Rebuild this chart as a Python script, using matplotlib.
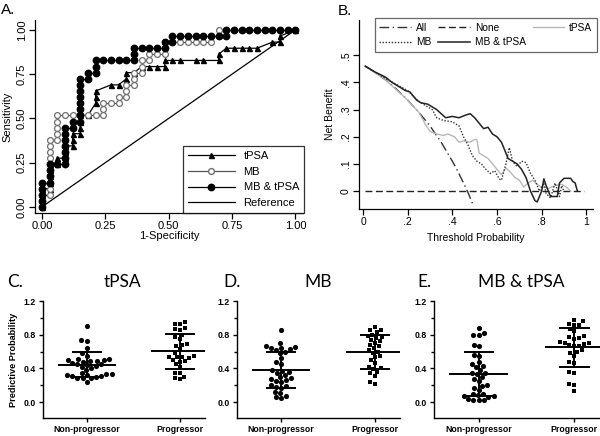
import numpy as np
import pandas as pd
import matplotlib
matplotlib.use("Agg")
import matplotlib.pyplot as plt
import seaborn as sns
from matplotlib.lines import Line2D

# ---- A. ROC curves, read as counts (false positives /33, true positives /29)
n_neg, n_pos = 33, 29

tpsa_fp = [0,0,0,0,1,1,1,1,1,2,2,3,3,3,4,4,4,5,5,5,5,6,7,7,7,9,10,11,11,12,13,14,15,16,16,17,18,20,21,23,23,24,25,26,27,28,30,31,31,33]
tpsa_tp = [0,1,2,3,3,4,5,6,7,7,8,8,9,10,10,11,12,12,13,14,15,15,17,18,19,20,20,21,22,22,23,23,23,23,24,24,24,24,24,24,25,26,26,26,26,26,27,27,28,29]

mb_fp = [0,0,0,1,1,1,1,1,1,1,1,1,1,2,2,2,2,2,3,4,5,6,7,8,8,8,9,10,10,11,11,11,12,12,12,13,13,13,14,14,15,16,16,16,17,18,19,20,21,22,22,23,23,24,25,26,27,28,29,30,31,32,33]
mb_tp = [0,1,2,2,3,4,5,6,7,8,9,10,11,11,12,13,14,15,15,15,15,15,15,15,16,17,17,17,18,18,19,20,20,21,22,22,23,24,24,25,25,25,26,27,27,27,27,27,27,27,28,28,29,29,29,29,29,29,29,29,29,29,29]

mbt_fp = [0,0,0,0,0,1,1,1,1,2,3,3,3,3,3,3,3,4,4,5,5,5,5,5,5,5,5,6,6,7,7,7,8,9,10,11,12,12,12,13,14,15,16,16,17,17,18,19,20,21,22,23,24,24,25,26,27,28,29,30,31,32,33]
mbt_tp = [0,1,2,3,4,4,5,6,7,7,7,8,9,10,11,12,13,13,14,14,15,16,17,18,19,20,21,21,22,22,23,24,24,24,24,24,24,25,26,26,26,26,26,27,27,28,28,28,28,28,28,28,28,29,29,29,29,29,29,29,29,29,29]

# ---- B. decision curves
all_pt = [0.01, 0.05, 0.10, 0.15, 0.20, 0.25, 0.30, 0.35, 0.40, 0.42, 0.45, 0.47, 0.49]
all_nb = [0.46, 0.44, 0.41, 0.375, 0.335, 0.29, 0.24, 0.18, 0.11, 0.08, 0.03, -0.005, -0.045]
none_pt = [0.01, 0.99]
none_nb = [0.0, 0.0]

tpsa_pt = [0.01, 0.10, 0.20, 0.25, 0.28, 0.30, 0.33, 0.36, 0.38, 0.41, 0.43, 0.45, 0.48, 0.50, 0.51,
           0.52, 0.54, 0.56, 0.58, 0.60, 0.62, 0.64, 0.66, 0.68, 0.70, 0.72, 0.74, 0.76, 0.78, 0.80,
           0.83, 0.86, 0.89, 0.91, 0.93]
tpsa_nb = [0.46, 0.41, 0.335, 0.29, 0.245, 0.22, 0.21, 0.205, 0.21, 0.20, 0.18, 0.185, 0.18, 0.19, 0.19,
           0.14, 0.13, 0.12, 0.10, 0.08, 0.06, 0.085, 0.07, 0.05, 0.04, 0.015, 0.03, 0.04, 0.025, 0.015,
           0.01, 0.02, 0.025, 0.015, 0.0]

mb_pt = [0.01, 0.10, 0.20, 0.25, 0.29, 0.31, 0.33, 0.36, 0.40, 0.43, 0.45, 0.47, 0.49, 0.51, 0.53,
         0.55, 0.57, 0.59, 0.61, 0.62, 0.64, 0.655, 0.67, 0.69, 0.71, 0.73, 0.75, 0.77, 0.79, 0.81,
         0.82, 0.84, 0.86, 0.88, 0.89, 0.90]
mb_nb = [0.46, 0.415, 0.37, 0.33, 0.31, 0.30, 0.27, 0.26, 0.255, 0.24, 0.20, 0.17, 0.13, 0.11, 0.10,
         0.08, 0.065, 0.075, 0.045, 0.04, 0.10, 0.16, 0.11, 0.09, 0.11, 0.105, 0.065, 0.04, 0.0, 0.03,
         -0.01, -0.025, 0.03, -0.02, 0.02, 0.0]

mbt_pt = [0.01, 0.05, 0.10, 0.13, 0.16, 0.19, 0.21, 0.24, 0.26, 0.29, 0.31, 0.33, 0.35, 0.37, 0.40,
          0.43, 0.46, 0.48, 0.50, 0.52, 0.54, 0.56, 0.58, 0.60, 0.62, 0.64, 0.65, 0.67, 0.69, 0.71,
          0.73, 0.75, 0.77, 0.78, 0.80, 0.81, 0.82, 0.84, 0.86, 0.87, 0.88, 0.90, 0.93, 0.94, 0.95, 0.96]
mbt_nb = [0.46, 0.44, 0.42, 0.40, 0.385, 0.37, 0.365, 0.335, 0.325, 0.32, 0.31, 0.30, 0.285, 0.27, 0.275,
          0.27, 0.28, 0.285, 0.27, 0.25, 0.23, 0.235, 0.21, 0.20, 0.18, 0.14, 0.12, 0.11, 0.10, 0.08,
          0.05, 0.0, -0.035, -0.04, 0.0, 0.045, 0.02, -0.02, -0.02, -0.02, 0.03, 0.047, 0.047, 0.035, 0.03, 0.0]

# ---- C-E. predictive probabilities
groups = ["Non-progressor", "Progressor"]
c_np = [0.90, 0.74, 0.73, 0.64, 0.58, 0.55, 0.51, 0.51, 0.50, 0.50, 0.49, 0.49, 0.48, 0.46, 0.45, 0.45, 0.44,
        0.43, 0.42, 0.40, 0.38, 0.34, 0.33, 0.33, 0.32, 0.32, 0.31, 0.31, 0.30, 0.29, 0.28, 0.28, 0.24]
c_p = [0.95, 0.93, 0.93, 0.88, 0.87, 0.86, 0.80, 0.77, 0.75, 0.69, 0.68, 0.66, 0.63, 0.58, 0.55, 0.54, 0.53,
       0.53, 0.52, 0.50, 0.49, 0.48, 0.45, 0.42, 0.35, 0.34, 0.30, 0.28, 0.27]
d_np = [0.85, 0.70, 0.66, 0.65, 0.64, 0.64, 0.63, 0.62, 0.60, 0.58, 0.52, 0.47, 0.45, 0.38, 0.37, 0.36, 0.35,
        0.32, 0.30, 0.28, 0.27, 0.26, 0.25, 0.24, 0.20, 0.19, 0.18, 0.17, 0.12, 0.11, 0.07, 0.06, 0.05]
d_p = [0.89, 0.86, 0.85, 0.83, 0.80, 0.78, 0.77, 0.76, 0.74, 0.72, 0.70, 0.68, 0.66, 0.64, 0.62, 0.60, 0.58,
       0.55, 0.53, 0.50, 0.46, 0.42, 0.40, 0.39, 0.36, 0.34, 0.31, 0.24, 0.21]
e_np = [0.88, 0.82, 0.80, 0.80, 0.68, 0.66, 0.56, 0.55, 0.47, 0.45, 0.43, 0.42, 0.38, 0.35, 0.34, 0.33, 0.30,
        0.27, 0.25, 0.20, 0.19, 0.17, 0.14, 0.09, 0.09, 0.08, 0.07, 0.07, 0.06, 0.03, 0.02, 0.02, 0.02]
e_p = [0.97, 0.96, 0.93, 0.92, 0.91, 0.87, 0.84, 0.78, 0.77, 0.76, 0.75, 0.71, 0.70, 0.70, 0.69, 0.68, 0.67,
       0.66, 0.62, 0.60, 0.58, 0.55, 0.48, 0.46, 0.36, 0.34, 0.21, 0.20, 0.13]

sans = ["Liberation Sans", "DejaVu Sans"]
plt.rcParams["font.family"] = sans

W, H = 600, 436
fig = plt.figure(figsize=(6.0, 4.36), dpi=100)


def px_axes(left, top, right, bottom):
    return fig.add_axes([left / W, 1 - bottom / H, (right - left) / W, (bottom - top) / H])


# ================= A. ROC
axA = px_axes(35, 20, 303, 213)
axA.plot([0, 1], [0, 1], color="black", lw=0.9)
axA.plot(np.array(tpsa_fp) / n_neg, np.array(tpsa_tp) / n_pos, color="black", lw=0.9,
         marker="^", ms=3.6, mfc="black", mec="black")
axA.plot(np.array(mb_fp) / n_neg, np.array(mb_tp) / n_pos, color="#555555", lw=0.9,
         marker="o", ms=4.2, mfc="white", mec="#707070", mew=0.9)
axA.plot(np.array(mbt_fp) / n_neg, np.array(mbt_tp) / n_pos, color="black", lw=0.9,
         marker="o", ms=4.6, mfc="black", mec="black")
axA.set_xlim(-0.027, 1.03)
axA.set_ylim(-0.034, 1.056)
axA.set_xticks([0, 0.25, 0.5, 0.75, 1.0])
axA.set_xticklabels(["0.00", "0.25", "0.50", "0.75", "1.00"])
axA.set_yticks([0, 0.25, 0.5, 0.75, 1.0])
axA.set_yticklabels(["0.00", "0.25", "0.50", "0.75", "1.00"], rotation=90, va="center")
axA.tick_params(labelsize=8, length=4, width=0.9, pad=2)
for s in ["top", "right"]:
    axA.spines[s].set_visible(False)
for s in ["left", "bottom"]:
    axA.spines[s].set_linewidth(0.9)
axA.set_xlabel("1-Specificity", fontsize=8, labelpad=0)
axA.set_ylabel("Sensitivity", fontsize=8, labelpad=3)
hA = [Line2D([], [], color="black", lw=0.9, marker="^", ms=3.6),
      Line2D([], [], color="#555555", lw=0.9, marker="o", ms=4.2, mfc="white", mec="#707070"),
      Line2D([], [], color="black", lw=0.9, marker="o", ms=4.6),
      Line2D([], [], color="black", lw=0.9)]
legA = axA.legend(hA, ["tPSA", "MB", "MB & tPSA", "Reference"], loc="lower right",
                  bbox_to_anchor=(304 / W, 1 - 213 / H), bbox_transform=fig.transFigure,
                  fontsize=8, frameon=True, fancybox=False, handlelength=4.2,
                  borderpad=0.45, labelspacing=0.5, handletextpad=0.8, borderaxespad=0)
legA.get_frame().set_edgecolor("black")
legA.get_frame().set_linewidth(0.9)

# ================= B. decision curves
axB = px_axes(359, 20, 593, 209)
axB.plot(all_pt, all_nb, color="#333333", lw=1.0, dashes=(7, 2.5, 1, 2.5))
axB.plot(none_pt, none_nb, color="#222222", lw=1.0, dashes=(5, 2.5))
axB.plot(tpsa_pt, tpsa_nb, color="#b8b8b8", lw=1.0)
axB.plot(mb_pt, mb_nb, color="#333333", lw=1.0, ls=(0, (1, 1.2)))
axB.plot(mbt_pt, mbt_nb, color="#222222", lw=1.1)
axB.set_xlim(-0.018, 1.03)
axB.set_ylim(-0.066, 0.63)
axB.set_xticks([0, 0.2, 0.4, 0.6, 0.8, 1.0])
axB.set_xticklabels(["0", ".2", ".4", ".6", ".8", "1"])
axB.set_yticks([0, 0.1, 0.2, 0.3, 0.4, 0.5])
axB.set_yticklabels(["0", ".1", ".2", ".3", ".4", ".5"], rotation=90, va="center")
axB.tick_params(labelsize=7.5, length=4, width=0.9, pad=2)
for s in ["top", "right"]:
    axB.spines[s].set_visible(False)
for s in ["left", "bottom"]:
    axB.spines[s].set_linewidth(0.9)
axB.set_xlabel("Threshold Probability", fontsize=7.5, labelpad=4)
axB.set_ylabel("Net Benefit", fontsize=7.5, labelpad=4)
hB = [Line2D([], [], color="#333333", lw=1.0, dashes=(7, 2.5, 1, 2.5)),
      Line2D([], [], color="#333333", lw=1.0, ls=(0, (1, 1.2))),
      Line2D([], [], color="#222222", lw=1.0, dashes=(5, 2.5)),
      Line2D([], [], color="#222222", lw=1.1),
      Line2D([], [], color="#b8b8b8", lw=1.0)]
legB = axB.legend(hB, ["All", "MB", "None", "MB & tPSA", "tPSA"], ncol=3, loc="upper right",
                  bbox_to_anchor=(597 / W, 1 - 18 / H), bbox_transform=fig.transFigure,
                  fontsize=7.3, frameon=True, fancybox=False, handlelength=3.1,
                  borderpad=0.45, labelspacing=0.45, columnspacing=0.7, handletextpad=0.5,
                  borderaxespad=0)
legB.get_frame().set_edgecolor("#444444")
legB.get_frame().set_linewidth(0.9)

# ================= C-E. scatter panels
lower = [
    (43, 205, c_np, c_p, "C.", 15, "tPSA", 122, True),
    (237, 400, d_np, d_p, "D.", 232, "MB", 318, False),
    (434, 600, e_np, e_p, "E.", 424, "MB & tPSA", 521, False),
]
for left, right, np_vals, p_vals, letter, lx, title, tx, first in lower:
    ax = px_axes(left, 301, right, 418)
    sns.swarmplot(x=[groups[0]] * len(np_vals), y=np_vals, order=groups, ax=ax,
                  color="black", marker="o", size=3.7, linewidth=0)
    sns.swarmplot(x=[groups[1]] * len(p_vals), y=p_vals, order=groups, ax=ax,
                  color="black", marker="s", size=3.5, linewidth=0)
    for i, vals in enumerate([np_vals, p_vals]):
        m = np.mean(vals)
        sd = np.std(vals, ddof=1)
        ax.hlines(m, i - 0.31, i + 0.31, color="black", lw=1.4, zorder=5)
        ax.vlines(i, m - sd, m + sd, color="black", lw=1.4, zorder=5)
        ax.hlines([m - sd, m + sd], i - 0.16, i + 0.16, color="black", lw=1.4, zorder=5)
    ax.set_xlim(-0.47, 1.27)
    ax.set_ylim(-0.19, 1.2)
    ax.set_yticks([0.0, 0.4, 0.8, 1.2])
    ax.set_yticklabels(["0.0", "0.4", "0.8", "1.2"])
    ax.set_yticks([0.2, 0.6, 1.0], minor=True)
    ax.set_xticks([0, 1])
    ax.set_xticklabels(groups)
    ax.tick_params(labelsize=6.3, length=3, width=1.0, pad=2)
    ax.tick_params(which="minor", length=2, width=1.0)
    for lab in ax.get_xticklabels() + ax.get_yticklabels():
        lab.set_fontweight("bold")
    for s in ["top", "right"]:
        ax.spines[s].set_visible(False)
    for s in ["left", "bottom"]:
        ax.spines[s].set_linewidth(1.0)
    ax.set_xlabel("")
    if first:
        ax.set_ylabel("Predictive Probability", fontsize=6.6, fontweight="bold", labelpad=4)
    else:
        ax.set_ylabel("")
    fig.text(lx / W, 1 - 282 / H, letter, fontsize=12.5, family=["Lato", "DejaVu Sans"],
             ha="center", va="center")
    fig.text(tx / W, 1 - 282 / H, title, fontsize=12.5, family=["Lato", "DejaVu Sans"],
             ha="center", va="center")

fig.text(8 / W, 1 - 10 / H, "A.", fontsize=11, ha="center", va="center")
fig.text(345 / W, 1 - 11 / H, "B.", fontsize=11, ha="center", va="center")

fig.savefig("out.png", dpi=100)
